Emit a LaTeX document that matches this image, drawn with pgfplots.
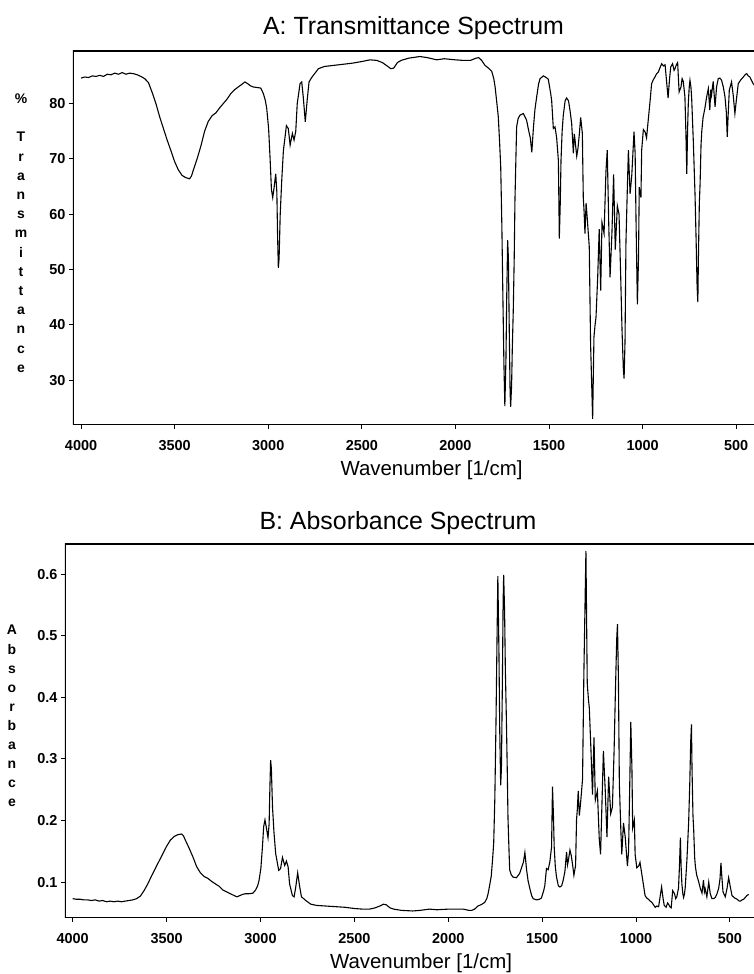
\documentclass[border=0pt]{standalone}
\usepackage{pgfplots}
\pgfplotsset{compat=1.18}
\usepackage{pgfplotstable}
\usepackage{fontspec}
\setmainfont{Liberation Sans}

\pgfplotstableread{
wn T A
4000 84.6 0.073
3980 84.8 0.072
3960 84.7 0.072
3940 85.0 0.071
3920 84.9 0.071
3900 85.1 0.070
3880 84.9 0.071
3860 85.3 0.069
3840 85.2 0.070
3820 85.5 0.068
3800 85.3 0.069
3780 85.6 0.068
3760 85.3 0.069
3740 85.5 0.068
3720 85.4 0.069
3700 85.2 0.070
3680 84.9 0.071
3660 84.5 0.073
3640 83.8 0.077
3620 82.0 0.086
3600 80.0 0.097
3580 77.6 0.110
3560 75.5 0.122
3540 73.4 0.134
3520 71.5 0.146
3500 69.5 0.158
3480 68.0 0.168
3460 67.0 0.174
3440 66.6 0.177
3420 66.4 0.178
3410 66.9 0.175
3400 68.0 0.168
3380 70.0 0.155
3360 72.3 0.141
3340 75.0 0.125
3320 76.8 0.115
3300 77.8 0.109
3280 78.3 0.106
3260 79.2 0.101
3240 80.0 0.097
3220 80.8 0.093
3200 81.8 0.087
3180 82.5 0.084
3160 83.0 0.081
3140 83.5 0.078
3125 83.9 0.076
3110 83.6 0.078
3095 83.2 0.080
3080 83.0 0.081
3060 82.9 0.081
3040 82.8 0.082
3026 81.8 0.087
3015 80.5 0.094
3008 79.1 0.102
2998 75.5 0.122
2990 70.0 0.155
2983 64.5 0.190
2976 63.0 0.201
2968 65.0 0.187
2960 67.3 0.172
2954 64.0 0.194
2950 56.0 0.252
2946 50.3 0.298
2942 52.0 0.284
2936 60.0 0.222
2928 66.0 0.180
2919 71.5 0.146
2910 74.0 0.131
2903 76.0 0.119
2893 75.5 0.122
2883 72.5 0.140
2871 74.6 0.127
2862 73.4 0.134
2853 75.0 0.125
2845 80.0 0.097
2830 83.6 0.078
2821 83.9 0.076
2813 81.2 0.090
2802 76.7 0.115
2792 80.6 0.094
2782 83.9 0.076
2770 84.6 0.073
2759 85.1 0.070
2732 86.3 0.064
2700 86.7 0.062
2650 86.9 0.061
2600 87.1 0.060
2550 87.3 0.059
2500 87.6 0.057
2456 87.9 0.056
2420 87.8 0.056
2390 87.4 0.058
2365 86.8 0.061
2345 86.3 0.064
2330 86.4 0.063
2310 87.4 0.058
2290 87.8 0.056
2250 88.2 0.054
2190 88.5 0.053
2150 88.3 0.054
2100 87.9 0.056
2060 88.1 0.055
2000 87.9 0.056
1960 87.8 0.056
1920 87.8 0.056
1890 88.2 0.054
1875 88.3 0.054
1860 87.8 0.056
1842 86.9 0.061
1820 86.3 0.064
1806 85.8 0.067
1795 84.5 0.073
1788 83.0 0.081
1780 80.5 0.094
1771 77.6 0.110
1764 73.0 0.137
1758 68.5 0.164
1752 58.0 0.237
1746 44.0 0.357
1741 33.0 0.481
1736 25.3 0.597
1730 34.0 0.469
1726 45.0 0.347
1721 55.3 0.257
1717 52.0 0.284
1712 38.0 0.420
1708 28.0 0.553
1705 25.2 0.599
1700 29.0 0.538
1696 36.0 0.444
1691 42.6 0.371
1686 52.0 0.284
1682 62.5 0.204
1677 70.0 0.155
1673 75.8 0.120
1665 77.3 0.112
1655 77.9 0.108
1637 78.2 0.107
1620 77.0 0.114
1608 75.0 0.125
1600 73.8 0.132
1592 71.2 0.148
1583 75.8 0.120
1575 79.0 0.102
1566 81.2 0.090
1556 83.5 0.078
1548 84.5 0.073
1530 85.0 0.071
1515 84.7 0.072
1504 84.4 0.074
1492 82.0 0.086
1486 80.6 0.094
1477 75.5 0.122
1468 75.8 0.120
1459 73.7 0.133
1450 69.7 0.157
1445 55.6 0.255
1440 62.0 0.208
1436 69.7 0.157
1430 75.0 0.125
1424 77.8 0.109
1414 80.5 0.094
1406 81.0 0.092
1396 80.5 0.094
1388 78.8 0.103
1379 76.4 0.117
1370 71.0 0.149
1365 74.5 0.128
1361 73.4 0.134
1352 70.5 0.152
1345 72.0 0.143
1338 74.5 0.128
1331 77.5 0.111
1322 74.6 0.127
1317 63.0 0.201
1313 60.7 0.217
1308 56.5 0.248
1302 62.0 0.208
1295 58.9 0.230
1285 54.1 0.267
1278 36.6 0.437
1267 23.0 0.638
1260 37.8 0.423
1254 40.0 0.398
1249 41.4 0.383
1240 48.6 0.313
1232 57.3 0.242
1224 46.2 0.335
1217 58.5 0.233
1206 56.5 0.248
1196 67.6 0.170
1189 71.6 0.145
1181 58.3 0.234
1174 48.6 0.313
1164 56.5 0.248
1155 67.2 0.173
1146 53.6 0.271
1135 61.5 0.211
1126 60.0 0.222
1117 48.6 0.313
1110 39.0 0.409
1103 32.0 0.495
1099 30.3 0.519
1094 37.0 0.432
1089 55.0 0.260
1081 65.5 0.184
1076 71.6 0.145
1067 63.7 0.196
1058 67.0 0.174
1046 74.9 0.126
1040 71.0 0.149
1035 58.3 0.234
1028 43.7 0.360
1022 52.0 0.284
1018 64.9 0.188
1009 63.0 0.201
1005 71.6 0.145
996 75.3 0.123
986 74.8 0.126
979 73.8 0.132
970 77.0 0.114
960 80.5 0.094
952 83.6 0.078
943 84.3 0.074
934 84.8 0.072
925 85.4 0.069
916 85.7 0.067
907 86.5 0.063
898 87.2 0.059
889 86.8 0.061
880 87.0 0.060
872 84.0 0.076
864 81.0 0.092
856 84.5 0.073
850 86.6 0.062
840 87.2 0.059
832 86.0 0.066
827 86.3 0.064
820 87.0 0.060
813 87.4 0.058
805 82.1 0.086
795 83.0 0.081
789 84.5 0.073
783 84.0 0.076
778 82.5 0.084
774 81.2 0.090
769 75.0 0.125
764 67.3 0.172
760 75.0 0.125
756 80.0 0.097
751 83.0 0.081
747 84.2 0.075
742 83.0 0.081
738 81.0 0.092
729 73.0 0.137
720 63.5 0.197
714 55.0 0.260
709 47.0 0.328
705 44.1 0.356
702 52.0 0.284
697 62.0 0.208
693 65.5 0.184
688 72.5 0.140
684 75.0 0.125
677 77.5 0.111
668 79.0 0.102
658 81.2 0.090
649 82.7 0.082
641 78.8 0.103
636 82.5 0.084
632 81.5 0.089
623 84.0 0.076
613 79.4 0.100
605 83.0 0.081
596 84.5 0.073
587 84.6 0.073
578 84.2 0.075
569 83.0 0.081
560 81.2 0.090
553 78.5 0.105
548 74.0 0.131
543 78.0 0.108
537 82.4 0.084
525 83.9 0.076
516 81.5 0.089
507 78.2 0.107
498 81.0 0.092
489 83.6 0.078
475 84.3 0.074
462 84.8 0.072
450 85.3 0.069
444 85.4 0.069
436 85.0 0.071
427 84.8 0.072
410 83.6 0.078
400 83.2 0.080
}\spectrum

\pgfplotsset{
  irstyle/.style={
    scale only axis,
    x dir=reverse,
    axis line style={draw=none},
    tick align=outside,
    tick pos=left,
    major tick length=4bp,
    tick style={black, line width=1bp},
    xtick={500,1000,1500,2000,2500,3000,3500,4000},
    /pgf/number format/assume math mode=true,
    /pgf/number format/1000 sep={},
    ticklabel style={font=\fontsize{14.5}{14.5}\selectfont\bfseries},
    xticklabel style={yshift=-8bp},
  }
}

\begin{document}
\begin{tikzpicture}
\path[use as bounding box] (0bp,0bp) rectangle (754bp,974bp);

\begin{axis}[irstyle, at={(73bp,549bp)}, anchor=south west,
  width=681bp, height=374bp,
  xmin=405, xmax=4043, ymin=21.9, ymax=89.5,
  ytick={30,40,50,60,70,80}]
\addplot[black, line width=1.1bp] table[x=wn, y=T] {\spectrum};
\draw[black, line width=1.2bp] (axis description cs:1,1) -- (axis description cs:0,1) -- (axis description cs:0,0) -- (axis description cs:1,0);
\end{axis}

\begin{axis}[irstyle, at={(65bp,56bp)}, anchor=south west,
  width=689bp, height=374bp,
  xmin=372, xmax=4041, ymin=0.0416, ymax=0.649,
  ytick={0.1,0.2,0.3,0.4,0.5,0.6},
  yticklabel style={/pgf/number format/.cd, fixed, precision=1}]
\addplot[black, line width=1.1bp] table[x=wn, y=A] {\spectrum};
\draw[black, line width=1.2bp] (axis description cs:1,1) -- (axis description cs:0,1) -- (axis description cs:0,0) -- (axis description cs:1,0);
\end{axis}

\node[anchor=base, font=\fontsize{25}{25}\selectfont] at (413.5bp,939bp) {A: Transmittance Spectrum};
\node[anchor=base, font=\fontsize{25}{25}\selectfont] at (398bp,444bp) {B: Absorbance Spectrum};
\node[anchor=base, font=\fontsize{20.5}{20.5}\selectfont] at (431.5bp,498bp) {Wavenumber [1/cm]};
\node[anchor=base, font=\fontsize{20.5}{20.5}\selectfont] at (421bp,6bp) {Wavenumber [1/cm]};

\node[anchor=base, inner sep=0pt, font=\fontsize{14}{14}\selectfont\bfseries] at (21bp,870.4bp) {\%};
\foreach \c [count=\i from 0] in {T,r,a,n,s,m,i,t,t,a,n,c,e}
  \node[anchor=base, inner sep=0pt, font=\fontsize{14}{14}\selectfont\bfseries] at ({21bp},{832bp-\i*19.2bp}) {\c};
\foreach \c [count=\i from 0] in {A,b,s,o,r,b,a,n,c,e}
  \node[anchor=base, inner sep=0pt, font=\fontsize{14}{14}\selectfont\bfseries] at ({12bp},{339bp-\i*19.06bp}) {\c};
\end{tikzpicture}
\end{document}
